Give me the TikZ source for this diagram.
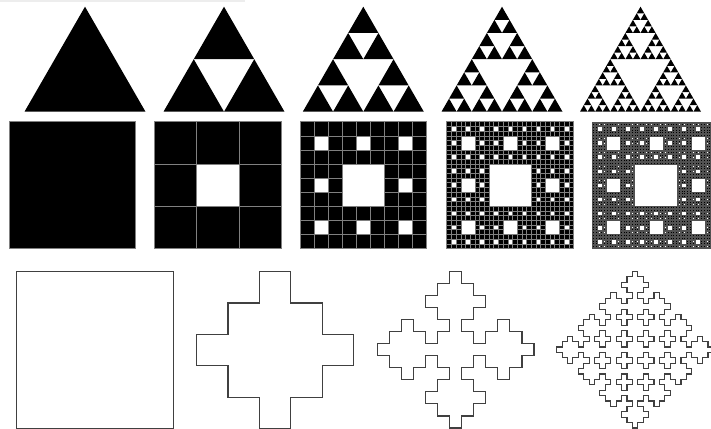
\documentclass[tikz,border=0pt]{standalone}
\tikzset{
  carpetcell/.style={fill=black, draw=black!50, line width=0.42pt},
  finecell/.style={fill=black, draw=black!68, line width=0.2pt},
  kochline/.style={draw=black!75, line width=1.1pt, line cap=rect},
}
% Sierpinski triangle: apex x, apex y, half width, height, level
\newcommand\sierp[5]{%
  \ifnum#5=0\relax
    \fill[black] (#1,#2) -- ({#1-#3},{#2+#4}) -- ({#1+#3},{#2+#4}) -- cycle;
  \else
    \begingroup
    \pgfmathsetmacro\sw{#3/2}%
    \pgfmathsetmacro\sh{#4/2}%
    \pgfmathsetmacro\sxl{#1-#3/2}%
    \pgfmathsetmacro\sxr{#1+#3/2}%
    \pgfmathsetmacro\sy{#2+#4/2}%
    \pgfmathtruncatemacro\sl{#5-1}%
    \edef\sdo{\noexpand\sierp{#1}{#2}{\sw}{\sh}{\sl}%
      \noexpand\sierp{\sxl}{\sy}{\sw}{\sh}{\sl}%
      \noexpand\sierp{\sxr}{\sy}{\sw}{\sh}{\sl}}%
    \sdo
    \endgroup
  \fi}
% Sierpinski carpet: x, y, size, level, cell style
\newcommand\carpetdraw[5]{%
  \ifnum#4=0\relax
    \filldraw[#5] (#1,#2) rectangle ++(#3,#3);
  \else
    \begingroup
    \pgfmathsetmacro\cs{#3/3}%
    \pgfmathtruncatemacro\cl{#4-1}%
    \foreach \ci in {0,1,2}{\foreach \cj in {0,1,2}{%
      \ifnum\numexpr\ci*3+\cj\relax=4 \else
        \pgfmathsetmacro\cx{#1+\ci*\cs}%
        \pgfmathsetmacro\cy{#2+\cj*\cs}%
        \edef\cdo{\noexpand\carpetdraw{\cx}{\cy}{\cs}{\cl}{#5}}\cdo
      \fi}}%
    \endgroup
  \fi}
% cross-shaped island: mark the 13 cells of a cross
\newcommand\markcross[3]{%
  \foreach \dc/\dr in {0/-2,-1/-1,0/-1,1/-1,-2/0,-1/0,0/0,1/0,2/0,-1/1,0/1,1/1,0/2}{%
    \expandafter\gdef\csname kc#1:\the\numexpr#2+\dc\relax:\the\numexpr#3+\dr\relax\endcsname{}}}
\newcommand\kin[3]{\ifcsname kc#1:#2:#3\endcsname 1\else 0\fi}
% mark the crosses of a checkerboard of n x n cells: tag, n
\newcommand\markisland[2]{%
  \pgfmathtruncatemacro\kn{#2-1}%
  \foreach \ka in {0,...,\kn}{\foreach \kb in {0,...,\kn}{%
    \ifodd\numexpr\ka+\kb\relax\else
      \edef\kdo{\noexpand\markcross{#1}{\the\numexpr2*(\ka-\kb)+2*\kn+2\relax}{\the\numexpr2*(\ka+\kb)+2\relax}}\kdo
    \fi}}}
% draw the outline of the marked cells: tag, cells per side, x0, y0
\newcommand\kochboundary[4]{%
  \gdef\kpath{}%
  \pgfmathtruncatemacro\kmax{#2-1}%
  \foreach \ka in {-1,...,\kmax}{%
    \foreach \kb in {-1,...,\kmax}{%
      \edef\kaa{\the\numexpr\ka+1\relax}%
      \edef\kbb{\the\numexpr\kb+1\relax}%
      \ifnum\kin{#1}{\ka}{\kb}=\kin{#1}{\kaa}{\kb}\relax\else
        \xdef\kpath{\kpath (\kaa,\kb) -- (\kaa,\kbb)}\fi
      \ifnum\kin{#1}{\ka}{\kb}=\kin{#1}{\ka}{\kbb}\relax\else
        \xdef\kpath{\kpath (\ka,\kbb) -- (\kaa,\kbb)}\fi
    }}%
  \pgfmathsetmacro\ks{156.7/#2}%
  \begin{scope}[shift={(#3pt,-#4pt)}, x=\ks pt, y=-\ks pt]
    \edef\kdo{\noexpand\draw[kochline] \kpath;}\kdo
  \end{scope}}
\begin{document}
\begin{tikzpicture}[x=1pt,y=-1pt]
\useasboundingbox (0,0) rectangle (711,428);
\clip (0,0) rectangle (711,428);
\fill[black!7] (0,0) rectangle (245,1.8);
% Sierpinski triangles
\sierp{85}{6.7}{60.5}{105}{0}
\sierp{224}{6.7}{60.5}{105}{1}
\sierp{363.3}{6.7}{60.5}{105}{2}
\sierp{502}{6.7}{60.5}{105}{3}
\sierp{640.5}{6.7}{60.5}{105}{4}
% Sierpinski carpets
\carpetdraw{9}{121.7}{126.7}{0}{carpetcell}
\carpetdraw{154.3}{121.7}{126.7}{1}{carpetcell}
\carpetdraw{300}{121.7}{126.7}{2}{carpetcell}
\carpetdraw{446.7}{121.7}{126.7}{3}{carpetcell}
\carpetdraw{592.3}{121.7}{126.7}{4}{finecell}
% cross islands
\draw[kochline] (16.7,271.7) rectangle (173.3,428.4);
\markisland{A}{1}
\markisland{B}{3}
\markisland{C}{7}
\kochboundary{A}{5}{196.7}{271.7}
\kochboundary{B}{13}{377.3}{271.3}
\kochboundary{C}{29}{556.7}{271.3}
\end{tikzpicture}
\end{document}
